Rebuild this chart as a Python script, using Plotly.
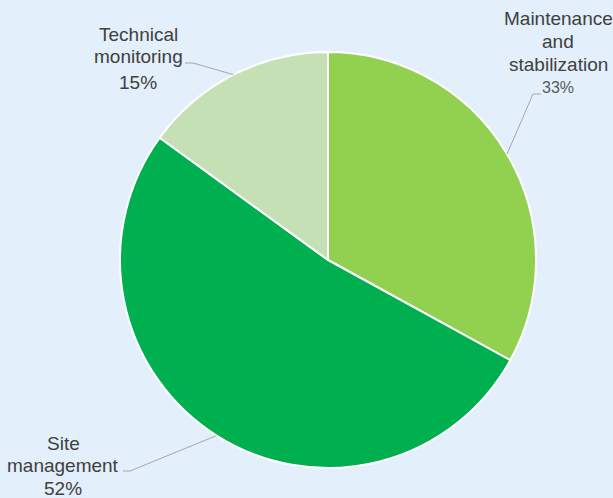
import math
import plotly.graph_objects as go

categories = ["Maintenance and stabilization", "Site management", "Technical monitoring"]
values = [33, 52, 15]
label_lines = [["Maintenance", "and", "stabilization"], ["Site", "management"], ["Technical", "monitoring"]]
colors = ["#92d050", "#00b050", "#c5e0b4"]

W, H = 613, 498
cx, cy, R = 328, 260, 208

fig = go.Figure(go.Pie(
    labels=categories, values=values, sort=False, direction="clockwise", rotation=0,
    marker=dict(colors=colors, line=dict(color="white", width=2)),
    textinfo="none", hoverinfo="label+percent",
    domain=dict(x=[(cx - R) / W, (cx + R) / W], y=[(H - cy - R) / H, (H - cy + R) / H]),
))

def px(x, y):
    return x / W, 1 - y / H

layout_info = [
    dict(x=558, ys=[18, 41, 64], pct_y=88, pct_size=16, pct_color="#595959", elbow=(533, 94), tip=(541, 94)),
    dict(x=63, ys=[443, 465], pct_y=488, pct_size=19, pct_color="#404040", elbow=(130, 471), tip=(123, 471)),
    dict(x=138, ys=[35, 57], pct_y=82, pct_size=19, pct_color="#404040", elbow=(193, 63), tip=(185, 63)),
]

total = sum(values)
cum = 0
annotations = []
shapes = []
for i, v in enumerate(values):
    mid = (cum + v / 2) / total * 2 * math.pi
    cum += v
    ex = cx + R * math.sin(mid)
    ey = cy - R * math.cos(mid)
    info = layout_info[i]
    for line, y in zip(label_lines[i], info["ys"]):
        ax, ay = px(info["x"], y)
        annotations.append(dict(x=ax, y=ay, xref="paper", yref="paper", text=line, showarrow=False,
                                font=dict(family="Liberation Sans, Arial", size=19, color="#404040"),
                                xanchor="center", yanchor="middle"))
    pct = f"{round(v / total * 100)}%"
    ax, ay = px(info["x"], info["pct_y"])
    annotations.append(dict(x=ax, y=ay, xref="paper", yref="paper", text=pct, showarrow=False,
                            font=dict(family="Liberation Sans, Arial", size=info["pct_size"], color=info["pct_color"]),
                            xanchor="center", yanchor="middle"))
    p1 = px(*info["tip"]); p2 = px(*info["elbow"]); p3 = px(ex, ey)
    shapes.append(dict(type="path", xref="paper", yref="paper",
                       path=f"M {p1[0]} {p1[1]} L {p2[0]} {p2[1]} L {p3[0]} {p3[1]}",
                       line=dict(color="#a6a6a6", width=1)))

fig.update_layout(
    width=W, height=H, margin=dict(l=0, r=0, t=0, b=0),
    paper_bgcolor="#e3effa", plot_bgcolor="#e3effa",
    showlegend=False, annotations=annotations, shapes=shapes,
)
fig.write_html("out.html")
